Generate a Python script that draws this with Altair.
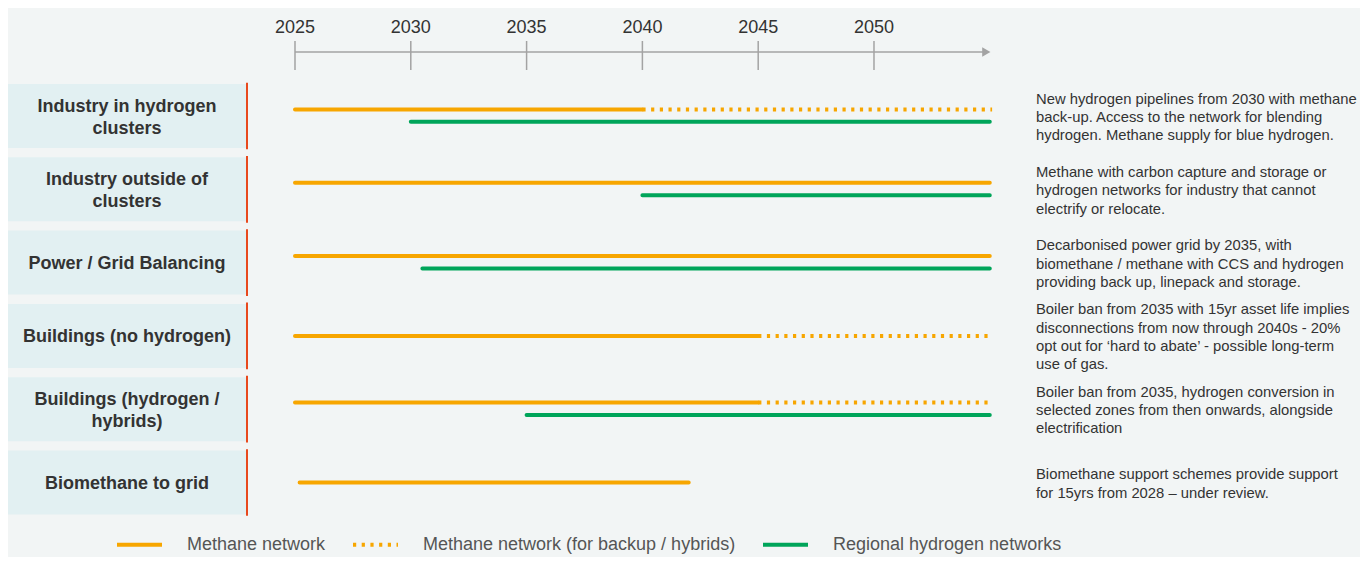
import altair as alt
import pandas as pd

# ---------------- data ----------------
categories = [
    "Industry in hydrogen\nclusters",
    "Industry outside of\nclusters",
    "Power / Grid Balancing",
    "Buildings (no hydrogen)",
    "Buildings (hydrogen /\nhybrids)",
    "Biomethane to grid",
]
notes = [
    "New hydrogen pipelines from 2030 with methane\nback-up. Access to the network for blending\nhydrogen. Methane supply for blue hydrogen.",
    "Methane with carbon capture and storage or\nhydrogen networks for industry that cannot\nelectrify or relocate.",
    "Decarbonised power grid by 2035, with\nbiomethane / methane with CCS and hydrogen\nproviding back up, linepack and storage.",
    "Boiler ban from 2035 with 15yr asset life implies\ndisconnections from now through 2040s - 20%\nopt out for \u2018hard to abate\u2019 - possible long-term\nuse of gas.",
    "Boiler ban from 2035, hydrogen conversion in\nselected zones from then onwards, alongside\nelectrification",
    "Biomethane support schemes provide support\nfor 15yrs from 2028 \u2013 under review.",
]
series_names = [
    "Methane network",
    "Methane network (for backup / hybrids)",
    "Regional hydrogen networks",
]
tick_years = [2025, 2030, 2035, 2040, 2045, 2050]
axis_start, axis_end = 2025, 2055

seg_row = [0, 0, 0, 1, 1, 2, 2, 3, 3, 4, 4, 4, 5]
seg_series = [0, 1, 2, 0, 2, 0, 2, 0, 1, 0, 1, 2, 0]
seg_start = [2025, 2040, 2030, 2025, 2040, 2025, 2030.5, 2025, 2045, 2025, 2045, 2035, 2025.2]
seg_end = [2040, 2055.1, 2055, 2055, 2055, 2055, 2055, 2045, 2055.1, 2045, 2055.1, 2055, 2042]

# ---------------- layout helpers ----------------
W, H = 1352, 549
ROW_PX = 73.3            # pixels per row unit on the y scale
CAT_LH, NOTE_LH = 22, 18.3

rows_with_h = {r for r, s in zip(seg_row, seg_series) if s == 2}
def lane(r, s):
    if s == 2:
        return 0.08
    return -0.09 if r in rows_with_h else 0.0

segs = pd.DataFrame({
    "row": seg_row,
    "series": [series_names[s] for s in seg_series],
    "start": seg_start,
    "end": seg_end,
})
segs["ypos"] = [r + lane(r, s) for r, s in zip(seg_row, seg_series)]

cats = pd.DataFrame({"row": list(range(len(categories))), "cat": categories, "note": notes})
cats["y0"] = cats["row"] - 0.4366
cats["y1"] = cats["row"] + 0.4366
cats["r0"] = cats["row"] - 0.455
cats["r1"] = cats["row"] + 0.455
# vertical centring of multi-line labels (first line sits on the anchor)
cats["ycat"] = [r - (c.count("\n")) * CAT_LH / 2 / ROW_PX for r, c in zip(cats["row"], categories)]
cats["ynote"] = [r - (n.count("\n")) * NOTE_LH / 2 / ROW_PX for r, n in zip(cats["row"], notes)]

ticks = pd.DataFrame({"year": tick_years, "label": [str(y) for y in tick_years]})
axis_df = pd.DataFrame({"a": [axis_start], "b": [axis_end - 0.25], "tip": [axis_end - 0.15]})

# ---------------- scales ----------------
XS = alt.Scale(domain=[2012.608, 2070.985], nice=False, zero=False)
YS = alt.Scale(domain=[-108 / ROW_PX, (H - 108) / ROW_PX], nice=False, zero=False, reverse=True)

FONT = "Liberation Sans"
ORANGE = "#f7a600"
GREEN = "#00a55a"
GREY = "#a3a3a3"

color_enc = alt.Color(
    "series:N",
    scale=alt.Scale(domain=series_names, range=[ORANGE, ORANGE, GREEN]),
    legend=alt.Legend(
        orient="none", legendX=107, legendY=512, direction="horizontal",
        title=None, symbolType="stroke", symbolSize=2025, symbolStrokeWidth=4,
        labelFontSize=18, labelColor="#555555", labelFont=FONT, labelOffset=23,
        columnPadding=19, labelLimit=500, padding=0, symbolOffset=0,
    ),
)
dash_enc = alt.StrokeDash(
    "series:N",
    scale=alt.Scale(domain=series_names, range=[[1, 0], [3.2, 5.5], [1, 0]]),
    legend=None,
)

# boxes
boxes = alt.Chart(cats).mark_rect(color="#e2f0f2").encode(
    x=alt.value(0), x2=alt.value(238),
    y=alt.Y("y0:Q", scale=YS, axis=None), y2="y1:Q",
)
redline = alt.Chart(cats).mark_rule(color="#e8491d", strokeWidth=2).encode(
    x=alt.value(239),
    y=alt.Y("r0:Q", scale=YS, axis=None), y2="r1:Q",
)
cat_text = alt.Chart(cats).mark_text(
    font=FONT, fontSize=18, fontWeight="bold", color="#333333",
    align="center", baseline="middle", lineBreak="\n", lineHeight=CAT_LH, dy=1.5,
).encode(
    x=alt.value(119),
    y=alt.Y("ycat:Q", scale=YS, axis=None),
    text="cat:N",
)
note_text = alt.Chart(cats).mark_text(
    font=FONT, fontSize=14.8, color="#333333",
    align="left", baseline="middle", lineBreak="\n", lineHeight=NOTE_LH, dy=2,
).encode(
    x=alt.value(1028),
    y=alt.Y("ynote:Q", scale=YS, axis=None),
    text="note:N",
)

# time axis
axis_line = alt.Chart(axis_df).mark_rule(color=GREY, strokeWidth=1.5).encode(
    x=alt.X("a:Q", scale=XS, axis=None), x2="b:Q", y=alt.value(44),
)
arrow = alt.Chart(axis_df).mark_point(
    shape="triangle-right", filled=True, color=GREY, size=90, opacity=1,
).encode(
    x=alt.X("tip:Q", scale=XS, axis=None), y=alt.value(44),
)
tick_rules = alt.Chart(ticks).mark_rule(color=GREY, strokeWidth=1.5).encode(
    x=alt.X("year:Q", scale=XS, axis=None), y=alt.value(33), y2=alt.value(62),
)
tick_labels = alt.Chart(ticks).mark_text(
    font=FONT, fontSize=18, color="#333333", baseline="middle", align="center",
).encode(
    x=alt.X("year:Q", scale=XS, axis=None), y=alt.value(20), text="label:N",
)

# timeline segments
solid = alt.Chart(segs).transform_filter(
    alt.datum.series != series_names[1]
).mark_rule(strokeWidth=4, strokeCap="round").encode(
    x=alt.X("start:Q", scale=XS, axis=None), x2="end:Q",
    y=alt.Y("ypos:Q", scale=YS, axis=None),
    color=color_enc, strokeDash=dash_enc,
)
dotted = alt.Chart(segs).transform_filter(
    alt.datum.series == series_names[1]
).mark_rule(strokeWidth=4, strokeCap="butt").encode(
    x=alt.X("start:Q", scale=XS, axis=None), x2="end:Q",
    y=alt.Y("ypos:Q", scale=YS, axis=None),
    color=color_enc, strokeDash=dash_enc,
)

chart = alt.layer(
    boxes, redline, cat_text, note_text,
    axis_line, arrow, tick_rules, tick_labels,
    solid, dotted,
).properties(
    width=W, height=H, padding=0, autosize=alt.AutoSizeParams(type="none"),
    background="#f2f5f5",
).configure_view(stroke=None)

chart.save("out.html", embed_options={"renderer": "svg", "actions": False})
